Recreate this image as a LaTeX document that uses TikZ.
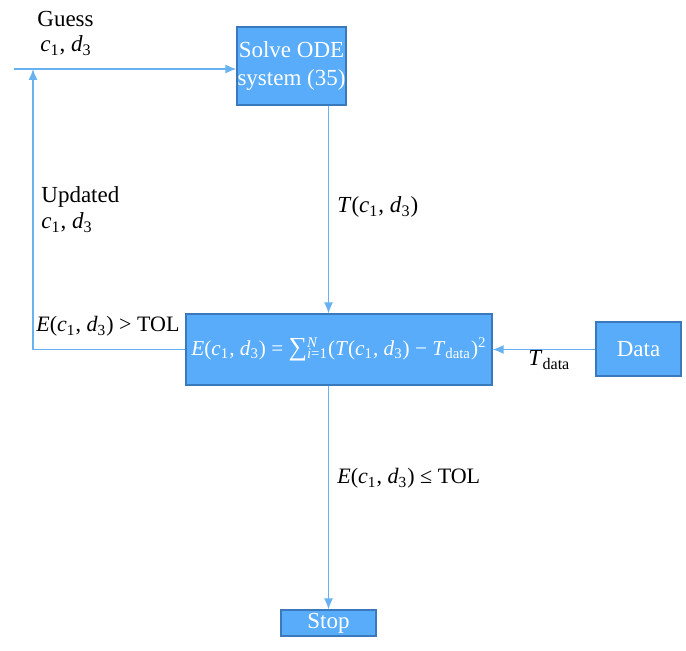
\documentclass[tikz,border=0pt]{standalone}
\usepackage{fontspec}
\setmainfont{Liberation Serif}
\usetikzlibrary{arrows.meta}
\definecolor{B}{RGB}{88,172,250}
\definecolor{BD}{RGB}{58,122,188}
\definecolor{L}{RGB}{104,178,242}
\newcommand\vi[1]{\textit{#1}}
\newcommand\cd{\vi{c}\textsubscript{1}, \vi{d}\textsubscript{3}}
\newcommand\Ecd{\vi{E}(\cd)}
\newcommand\Td{\vi{T}\textsubscript{data}}
\newcommand\sumN{{\fontsize{13}{13}\selectfont ∑}\makebox[0pt][l]{\textsuperscript{\vi{N}}}\textsubscript{\vi{i}=1}}

\begin{document}
\begin{tikzpicture}[x=0.5pt,y=-0.5pt,font=\fontsize{11.5}{14}\selectfont]
    \tikzset{blk/.style={draw=BD,fill=B,text=white,line width=0.6pt,inner sep=0pt,align=center},
             flow/.style={L,line width=0.7pt,-{Latex[length=5.5pt,width=4.5pt]}},
             lbl/.style={anchor=base west,inner sep=0pt,align=left}}
    \path[use as bounding box] (0,0) rectangle (686,651);
    \node[blk,minimum width=54.5pt,minimum height=39pt] (solve) at (291.5,66) {Solve ODE\\system (35)};
    \node[blk,minimum width=153pt,minimum height=35.5pt,font=\fontsize{10.6}{13}\selectfont] (err) at (339,349.5) {\Ecd{} = \sumN(\vi{T}(\cd) − \Td)\textsuperscript{2}};
    \node[blk,minimum width=42.5pt,minimum height=27pt] (data) at (638.5,349) {Data};
    \node[blk,minimum width=47.5pt,minimum height=13pt] (stop) at (328.5,623) {Stop};
    \coordinate (in) at (14,69);
    \coordinate (join) at (33,69);
    \draw[flow] (in) -- (solve.west |- in);
    \draw[flow] (err.west) -| (join);
    \draw[flow] (solve.south -| stop.north) -- (err.north -| stop.north);
    \draw[flow] (data.west |- err.east) -- (err.east);
    \draw[flow] (err.south -| stop.north) -- (stop.north);
    \node[lbl] (guess) at (37,27) {Guess};
    \node[lbl] (guessv) at (40,52) {\cd};
    \node[lbl] (upd) at (41,203) {Updated};
    \node[lbl] (updv) at (41,229) {\cd};
    \node[lbl] (tout) at (337,213) {\vi{T}(\cd)};
    \node[lbl,font=\fontsize{11}{13}\selectfont] (gt) at (36,332) {\Ecd{} > TOL};
    \node[lbl] (tdata) at (528,366) {\Td};
    \node[lbl,font=\fontsize{11}{13}\selectfont] (le) at (337,484) {\Ecd{} ≤ TOL};
\end{tikzpicture}
\end{document}
